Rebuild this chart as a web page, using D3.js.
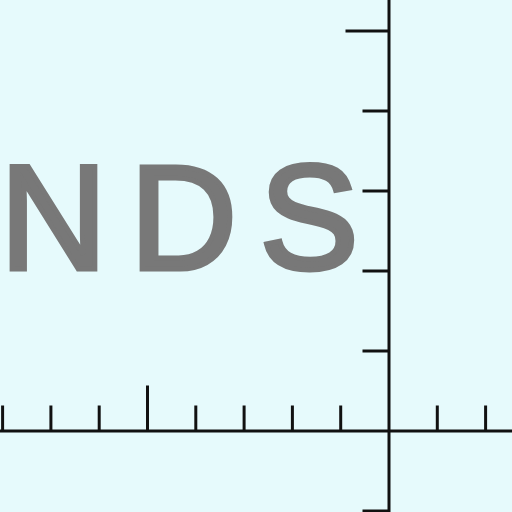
<!DOCTYPE html>
<html><head><meta charset="utf-8">
<script src="https://cdn.jsdelivr.net/npm/d3@7"></script>
<style>html,body{margin:0;padding:0;background:#e6fafc;}svg{display:block;}</style>
</head><body>
<script>
const label = "NDS";
const xMinorTicks = [-8, -7, -6, -4, -3, -2, -1, 1, 2];
const xMajorTicks = [-5];
const yMinorTicks = [4, 3, 2, 1, -1];
const yMajorTicks = [5];

const W = 512, H = 512;
const svg = d3.select("body").append("svg").attr("width", W).attr("height", H);
svg.append("rect").attr("width", W).attr("height", H).attr("fill", "#e6fafc");

const x = d3.scaleLinear().domain([0, 1]).range([388.5, 436.8]);
const y = d3.scaleLinear().domain([0, 1]).range([430.5, 350.5]);
const xDom = [x.invert(-5), x.invert(W + 5)];
const yDom = [y.invert(H + 5), y.invert(-5)];

svg.append("text").text(label)
  .attr("x", 0).attr("y", 269)
  .attr("font-family", "Liberation Sans, Arial, sans-serif")
  .attr("font-size", 148)
  .attr("letter-spacing", 23)
  .attr("fill", "#787878").attr("stroke", "#787878").attr("stroke-width", 5)
  .attr("stroke-linejoin", "miter");

const xs = x.copy().domain(xDom).range([x(xDom[0]), x(xDom[1])]);
const ys = y.copy().domain(yDom).range([y(yDom[0]), y(yDom[1])]);

function styleAxis(g){ g.selectAll("path,line").attr("stroke","#111").attr("stroke-width",3); g.selectAll("text").remove(); }

svg.append("g").attr("transform", `translate(0,${y(0)})`)
  .call(d3.axisTop(xs).tickValues(xMinorTicks).tickSize(25).tickSizeOuter(0).tickFormat(""))
  .call(styleAxis);
svg.append("g").attr("transform", `translate(0,${y(0)})`)
  .call(d3.axisTop(xs).tickValues(xMajorTicks).tickSize(45).tickSizeOuter(0).tickFormat(""))
  .call(g => g.select(".domain").remove()).call(styleAxis);

svg.append("g").attr("transform", `translate(${x(0)},0)`)
  .call(d3.axisLeft(ys).tickValues(yMinorTicks).tickSize(26).tickSizeOuter(0).tickFormat(""))
  .call(styleAxis);
svg.append("g").attr("transform", `translate(${x(0)},0)`)
  .call(d3.axisLeft(ys).tickValues(yMajorTicks).tickSize(43).tickSizeOuter(0).tickFormat(""))
  .call(g => g.select(".domain").remove()).call(styleAxis);
</script>
</body></html>
